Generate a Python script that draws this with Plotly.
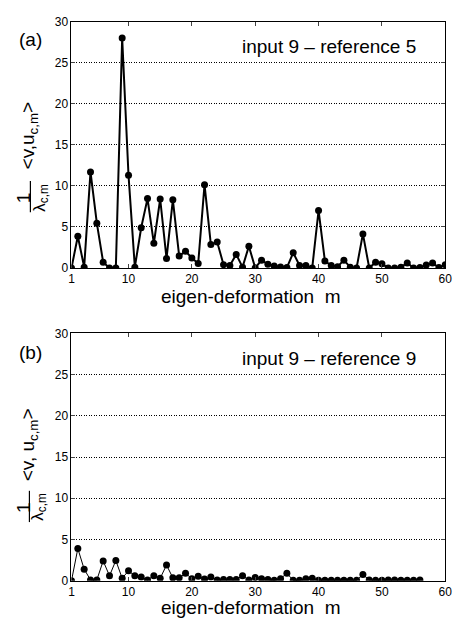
import plotly.graph_objects as go

# ---- data ----
m_a = list(range(1, 61))
val_a = [0, 3.87, 0.1, 11.7, 5.45, 0.7, 0, 0, 28.0, 11.3,
         0.1, 4.9, 8.45, 3.0, 8.4, 1.15, 8.3, 1.45, 2.05, 1.2,
         0.55, 10.15, 2.85, 3.15, 0.4, 0.3, 1.65, 0.1, 2.65, 0.0,
         0.95, 0.45, 0.25, 0.12, 0.05, 1.85, 0.3, 0.3, 0.0, 7.0,
         0.85, 0.3, 0.15, 0.95, 0.1, 0.0, 4.15, 0.0, 0.7, 0.5,
         0.0, 0.0, 0.1, 0.6, 0.0, 0.05, 0.35, 0.6, 0.05, 0.4]

m_b = list(range(1, 57))
val_b = [0, 3.9, 1.4, 0.1, 0.1, 2.4, 0.6, 2.45, 0.3, 1.2,
         0.6, 0.45, 0.1, 0.6, 0.3, 1.9, 0.35, 0.35, 0.9, 0.25,
         0.55, 0.2, 0.45, 0.1, 0.15, 0.15, 0.15, 0.6, 0.1, 0.4,
         0.25, 0.15, 0.05, 0.25, 0.9, 0.05, 0.05, 0.25, 0.3, 0.05,
         0.05, 0.05, 0.05, 0.05, 0.05, 0.05, 0.75, 0.1, 0.05, 0.05,
         0.1, 0.1, 0.05, 0.05, 0.05, 0.1]

x_ticks = [1, 10, 20, 30, 40, 50, 60]
y_ticks = [0, 5, 10, 15, 20, 25, 30]
panel_labels = ["(a)", "(b)"]
panel_titles = ["input 9 – reference 5", "input 9 – reference 9"]
x_title = "eigen-deformation  m"

W, H = 464, 619
FONT = "Arial, Liberation Sans, sans-serif"
TF = 19  # text font size


def px(x):
    return x / W


def py(y):
    return 1 - y / H


fig = go.Figure()
fig.add_trace(go.Scatter(x=m_a, y=val_a, mode="lines+markers",
                         line=dict(color="black", width=2),
                         marker=dict(color="black", size=7),
                         xaxis="x", yaxis="y", showlegend=False))
fig.add_trace(go.Scatter(x=m_b, y=val_b, mode="lines+markers",
                         line=dict(color="black", width=1),
                         marker=dict(color="black", size=7),
                         xaxis="x2", yaxis="y2", showlegend=False))

xa = dict(range=[1, 60], tickvals=x_ticks, ticks="inside", ticklen=4,
          showline=True, linecolor="black", linewidth=1, mirror="ticks",
          showgrid=False, zeroline=False, tickfont=dict(size=12, family=FONT, color="black"),
          domain=[px(70), px(452)])
ya = dict(range=[0, 30], tickvals=y_ticks, ticks="inside", ticklen=4,
          showline=True, linecolor="black", linewidth=1, mirror="ticks",
          showgrid=True, gridcolor="black", gridwidth=1, griddash="1px,1.5px",
          zeroline=False, tickfont=dict(size=12, family=FONT, color="black"))

fig.update_layout(
    width=W, height=H,
    margin=dict(l=0, r=0, t=0, b=0),
    paper_bgcolor="white", plot_bgcolor="white",
    font=dict(family=FONT, color="black"),
    xaxis=dict(xa, anchor="y"),
    yaxis=dict(ya, anchor="x", domain=[py(267), py(15)]),
    xaxis2=dict(xa, anchor="y2"),
    yaxis2=dict(ya, anchor="x2", domain=[py(587), py(334)]),
)

ann = []
# panel-specific text positions (pixels)
layout_px = [
    dict(lab=(28, 33), title=(333, 40), xt=(253, 296), vu=(27, 131), one=(21, 195), bar=(28, 178, 210), lam=(38, 195)),
    dict(lab=(28, 353), title=(333, 360), xt=(253, 614), vu=(26, 448), one=(21, 512), bar=(27, 495, 527), lam=(37, 511)),
]
vu_texts = ["&lt;v,u<sub>c,m</sub>&gt;", "&lt;v, u<sub>c,m</sub>&gt;"]
for i, p in enumerate(layout_px):
    ann.append(dict(text=panel_labels[i], x=px(p["lab"][0]), y=py(p["lab"][1]), xref="paper", yref="paper",
                    showarrow=False, font=dict(size=TF), xanchor="center", yanchor="middle"))
    ann.append(dict(text=panel_titles[i], x=px(p["title"][0]), y=py(p["title"][1]), xref="paper", yref="paper",
                    showarrow=False, font=dict(size=TF), xanchor="center", yanchor="middle"))
    ann.append(dict(text=x_title, x=px(p["xt"][0]), y=py(p["xt"][1]), xref="paper", yref="paper",
                    showarrow=False, font=dict(size=TF), xanchor="center", yanchor="middle"))
    ann.append(dict(text=vu_texts[i], x=px(p["vu"][0]), y=py(p["vu"][1]), xref="paper", yref="paper",
                    showarrow=False, font=dict(size=TF), textangle=-90, xanchor="center", yanchor="middle"))
    ann.append(dict(text="1", x=px(p["one"][0]), y=py(p["one"][1]), xref="paper", yref="paper",
                    showarrow=False, font=dict(size=TF), textangle=-90, xanchor="center", yanchor="middle"))
    ann.append(dict(text="λ<sub>c,m</sub>", x=px(p["lam"][0]), y=py(p["lam"][1]), xref="paper", yref="paper",
                    showarrow=False, font=dict(size=17), textangle=-90, xanchor="center", yanchor="middle"))
    fig.add_shape(type="line", xref="paper", yref="paper",
                  x0=px(p["bar"][0]), x1=px(p["bar"][0]), y0=py(p["bar"][1]), y1=py(p["bar"][2]),
                  line=dict(color="black", width=1.2))

fig.update_layout(annotations=ann)
fig.write_html("out.html",
               config={"displayModeBar": False},
               post_script="document.documentElement.style.margin='0';"
                           "document.body.style.margin='0';"
                           "document.body.style.overflow='hidden';")
